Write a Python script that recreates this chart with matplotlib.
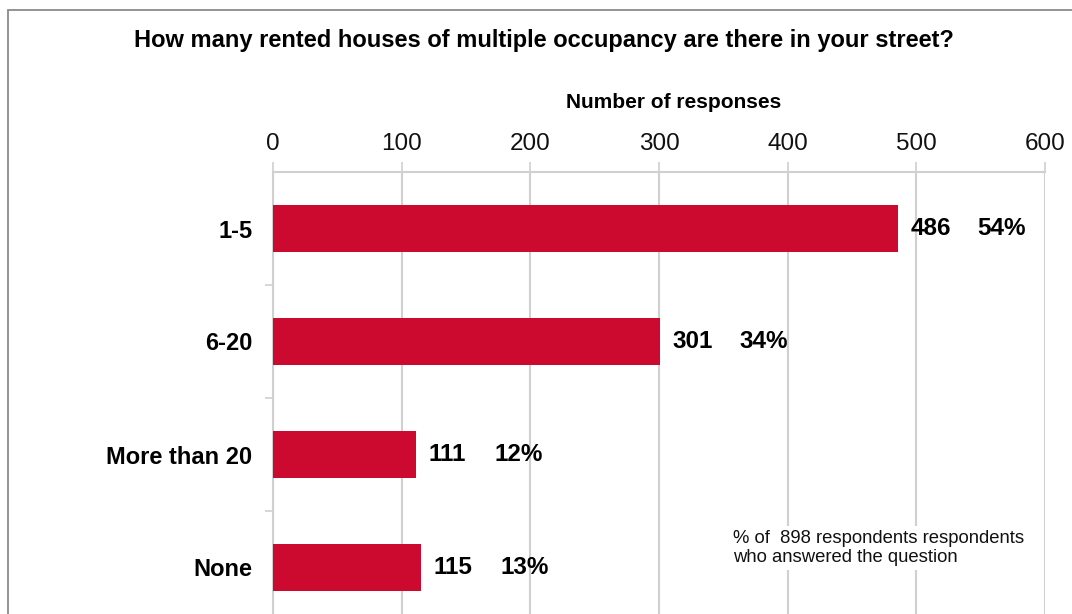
import matplotlib
matplotlib.use("Agg")
import matplotlib.pyplot as plt
from matplotlib.patches import Rectangle

plt.rcParams["font.family"] = ["Liberation Sans", "DejaVu Sans"]

# survey answers
categories = ["1-5", "6-20", "More than 20", "None"]
responses = [486, 301, 111, 115]
percents = ["54%", "34%", "12%", "13%"]
total_respondents = 898

bar_red = "#CC0A2F"
grid_grey = "#D0D0D0"

fig = plt.figure(figsize=(10.72, 6.14), dpi=100)

# outer frame (runs off the right and bottom edges)
fig.patches.append(Rectangle((8 / 1072, -0.1), 1.2, 1 - 10 / 614 + 0.1,
                             transform=fig.transFigure, fill=False,
                             edgecolor="#8A8A8A", linewidth=1.3))

ax = fig.add_axes([273 / 1072, 1 - 624 / 614, 772 / 1072, 452 / 614])

ypos = range(len(categories))
ax.barh(ypos, responses, height=0.42, color=bar_red, zorder=3)

ax.set_xlim(0, 600)
ax.set_ylim(3.5, -0.5)
ax.set_xticks(range(0, 601, 100))
ax.xaxis.tick_top()
ax.tick_params(axis="x", which="major", direction="out", length=7, width=1.2,
               color=grid_grey, labelsize=17.5, pad=5, labelcolor="#111111")
ax.grid(axis="x", color=grid_grey, linewidth=1.5, zorder=0)

ax.set_yticks(list(ypos))
ax.set_yticklabels(categories, fontsize=17, fontweight="bold")
ax.set_yticks([0.5, 1.5, 2.5], minor=True)
ax.tick_params(axis="y", which="major", length=0, pad=15)
ax.tick_params(axis="y", which="minor", length=6, width=1.2, color=grid_grey)

for side in ["right", "bottom"]:
    ax.spines[side].set_visible(False)
for side in ["top", "left"]:
    ax.spines[side].set_color(grid_grey)
    ax.spines[side].set_linewidth(1.5)

# count and percentage next to each bar
for y, n, pct in zip(ypos, responses, percents):
    ax.annotate(str(n), (n, y), xytext=(9, 0), textcoords="offset points",
                va="center", ha="left", fontsize=17.5, fontweight="bold")
    ax.annotate(pct, (n, y), xytext=(57, 0), textcoords="offset points",
                va="center", ha="left", fontsize=17.5, fontweight="bold")

fig.text(0.507, 1 - 40 / 614,
         "How many rented houses of multiple occupancy are there in your street?",
         ha="center", va="center", fontsize=17, fontweight="bold")
fig.text(674 / 1072, 1 - 103 / 614, "Number of responses",
         ha="center", va="center", fontsize=15, fontweight="bold")

fig.text(733 / 1072, 1 - 548 / 614,
         f"% of  {total_respondents} respondents respondents\nwho answered the question",
         ha="left", va="center", fontsize=13.3, linespacing=1.15, color="#111111",
         bbox=dict(facecolor="white", edgecolor="none", pad=3))

fig.savefig("out.png", dpi=100)
